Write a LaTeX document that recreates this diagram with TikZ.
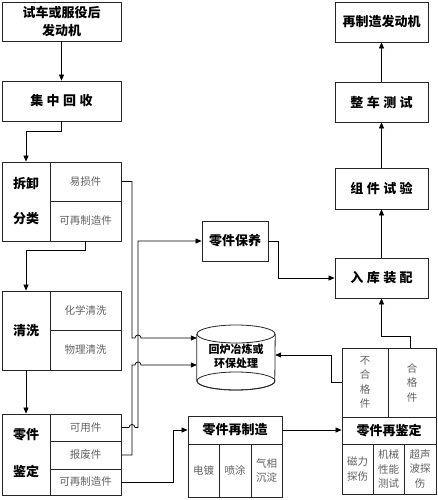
\documentclass[tikz,border=0pt]{standalone}
\usepackage{fontspec}
\setmainfont{Noto Sans CJK SC}
\usetikzlibrary{arrows.meta,calc}
\newcommand\mytitlefont{\fontsize{13}{18}\selectfont\bfseries}
\newcommand\mysubfont{\fontsize{10.5}{14.5}\selectfont}
\newcommand\cylfont{\fontsize{11}{14}\selectfont\bfseries}
\newcommand\gap{\hspace{3.5pt}}
\begin{document}
\begin{tikzpicture}[x=1pt,y=-1pt,
  box/.style={draw=black!85, line width=0.8pt, inner sep=0pt, align=center, font=\mytitlefont},
  cell/.style={draw=black!85, line width=0.8pt, inner sep=0pt, align=center, text=black!62, font=\mysubfont},
  lbl/.style={inner sep=0pt, align=center, font=\mytitlefont},
  ln/.style={line width=0.7pt},
  arr/.style={line width=0.7pt, -{Triangle[length=6pt,width=5pt]}}]
\useasboundingbox (0,0) rectangle (438,500);
\fill[white] (0,0) rectangle (438,500);

% left column
\node[box, minimum width=119pt, minimum height=39pt] (A) at (61.5,21.5) {试车或服役后\\发动机};
\node[box, minimum width=119pt, minimum height=40pt] (B) at (61.5,101) {集\gap 中\gap 回\gap 收};

\node[box, minimum width=48pt, minimum height=79pt] (cl) at (26,201.5) {};
\node[lbl] (cl1) at (26,184) {拆卸};
\node[lbl] (cl2) at (26,219) {分类};
\node[cell, minimum width=71pt, minimum height=39pt] (yisun) at (85.5,181.5) {易损件};
\node[cell, minimum width=71pt, minimum height=40pt] (czz) at (85.5,221) {可再制造件};

\node[box, minimum width=48pt, minimum height=79pt] (dl) at (26,330.5) {清洗};
\node[cell, minimum width=71pt, minimum height=39pt] (hx) at (85.5,310.5) {化学清洗};
\node[cell, minimum width=71pt, minimum height=40pt] (wl) at (85.5,350) {物理清洗};

\node[box, minimum width=48pt, minimum height=81pt] (el) at (26,454.5) {};
\node[lbl] (el1) at (26,435) {零件};
\node[lbl] (el2) at (26,471) {鉴定};
\node[cell, minimum width=71pt, minimum height=27pt] (keyong) at (85.5,427.5) {可用件};
\node[cell, minimum width=71pt, minimum height=28pt] (baofei) at (85.5,455) {报废件};
\node[cell, minimum width=71pt, minimum height=26pt] (ezz) at (85.5,482) {可再制造件};

% middle
\node[box, minimum width=66pt, minimum height=40pt] (F) at (235,241) {零件保养};

\node[minimum width=78pt, minimum height=65pt, inner sep=0pt] (cyl) at (236,357.5) {};
\draw[line width=0.8pt, draw=black!85, fill=white] (cyl.west |- 0,334) -- (cyl.west |- 0,381)
  arc[start angle=180, end angle=360, x radius=39pt, y radius=9pt] -- (cyl.east |- 0,334);
\draw[line width=0.8pt, draw=black!85] (236,381) ellipse [x radius=39pt, y radius=9pt];
\draw[line width=0.8pt, draw=black!85, fill=white] (236,334) ellipse [x radius=39pt, y radius=9pt];
\node[inner sep=0pt, align=center, font=\cylfont] (cyltext) at (236,356) {回炉冶炼或\\环保处理};

\node[box, minimum width=94pt, minimum height=28pt] (hh) at (235,430) {零件再制造};
\node[cell, minimum width=31pt, minimum height=53pt] (h1) at (203.5,470.5) {电镀};
\node[cell, minimum width=32pt, minimum height=53pt] (h2) at (235,470.5) {喷涂};
\node[cell, minimum width=31pt, minimum height=53pt] (h3) at (266.5,470.5) {气相\\沉淀};

% right column
\node[cell, minimum width=46pt, minimum height=69pt] (buhe) at (365,382.5) {不\\合\\格\\件};
\node[cell, minimum width=48pt, minimum height=69pt] (hege) at (412,382.5) {合\\格\\件};
\node[box, minimum width=94pt, minimum height=27pt] (ih) at (389,430.5) {零件再鉴定};
\node[cell, minimum width=31pt, minimum height=50pt] (i1) at (357.5,469) {磁力\\探伤};
\node[cell, minimum width=31pt, minimum height=50pt] (i2) at (388.5,469) {机械\\性能\\测试};
\node[cell, minimum width=32pt, minimum height=50pt] (i3) at (420,469) {超声\\波探\\伤};

\node[box, minimum width=93pt, minimum height=40pt] (J) at (381.5,278) {入\gap 库\gap 装\gap 配};
\node[box, minimum width=93pt, minimum height=41pt] (K) at (381.5,188.5) {组\gap 件\gap 试\gap 验};
\node[box, minimum width=93pt, minimum height=40pt] (L) at (381.5,102) {整\gap 车\gap 测\gap 试};
\node[box, minimum width=93pt, minimum height=40pt] (M) at (381.5,22) {再制造发动机};

% helper coordinates
\coordinate (xa) at (132,0);
\coordinate (xb) at (138,0);
\coordinate (r1) at ($(cyl.west)+(0,-19.5)$);
\coordinate (r2) at ($(cyl.west)+(0,7.5)$);
\coordinate (r3) at ($(cyl.east)+(0,-2.5)$);

% connectors
\draw[arr] (A.south) -- (B.north);
\draw[arr] (B.south) -- ++(0,10) -| (cl.north);
\draw[arr] (czz.south) -- ++(0,9) -| (dl.north);
\draw[arr] (dl.south) -- (el.north);

\draw[arr] (yisun.east) -- (yisun.east -| xa) -- (xa |- r1)
  -- ($(xb |- r1)+(-3,0)$) arc[start angle=180, end angle=0, radius=3pt] -- (r1);
\draw[arr] (keyong.east) -- ($(keyong.east -| xa)+(-3,0)$) arc[start angle=180, end angle=0, radius=3pt]
  -- (keyong.east -| xb) -- (xb |- F.west) -- (F.west);
\draw[arr] (baofei.east) -- (baofei.east -| xa) -- (xa |- r2)
  -- ($(xb |- r2)+(-3,0)$) arc[start angle=180, end angle=0, radius=3pt] -- (r2);
\draw[arr] (ezz.east) -- ++(52,0) |- (hh.west);

\draw[arr] (hh.east) -- (hh.east -| ih.west);
\draw[arr] (buhe.west) -- ++(-10,0) |- (r3);
\draw[arr] ($(hege.north)+(-2,0)$) -- ++(0,-11) -| (J.south);
\draw[arr] (F.east) -- ++(10,0) |- (J.west);

\draw[arr] (J.north) -- (K.south);
\draw[arr] (K.north) -- (L.south);
\draw[arr] (L.north) -- (M.south);
\end{tikzpicture}
\end{document}
